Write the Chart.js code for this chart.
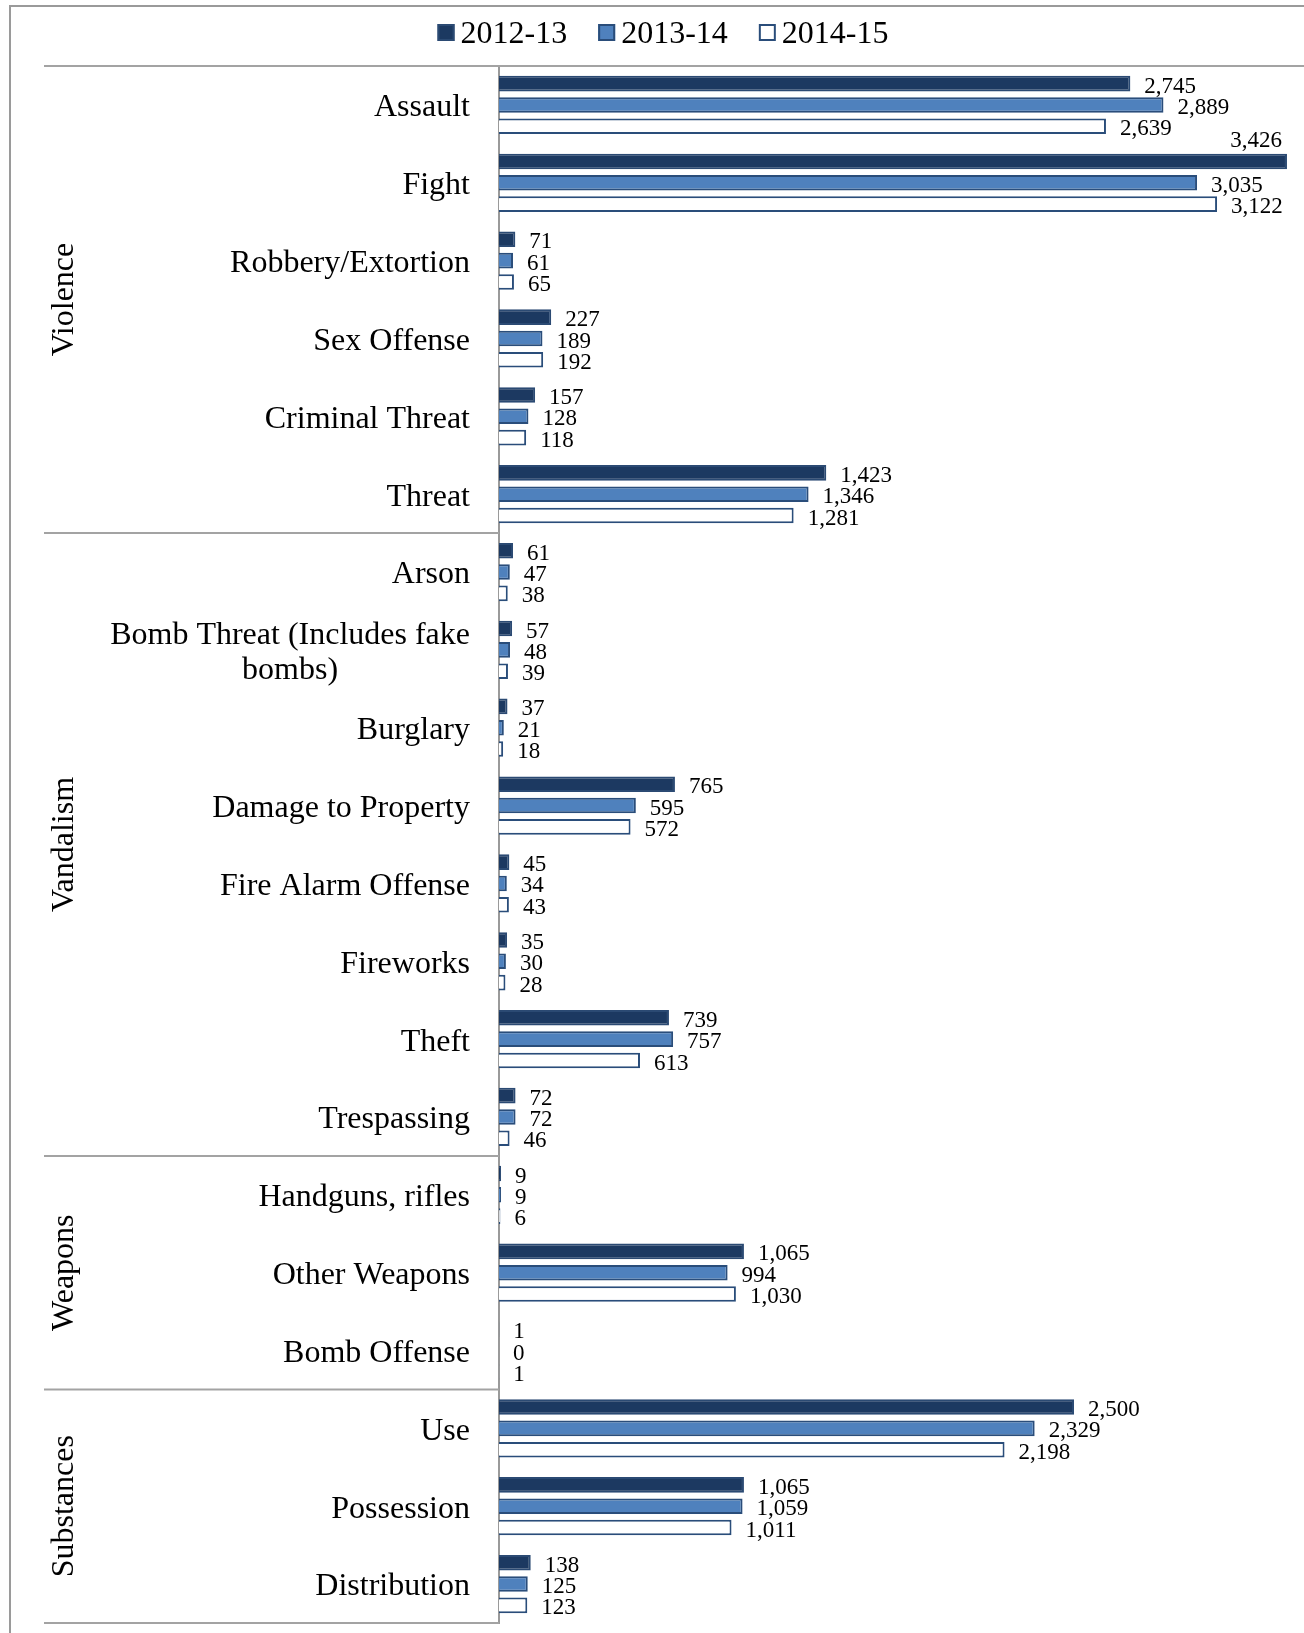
<!DOCTYPE html>
<html>
<head>
<meta charset="utf-8">
<script src="https://cdn.jsdelivr.net/npm/chart.js@4.4.1/dist/chart.umd.min.js"></script>
<style>
    html, body { margin: 0; padding: 0; background: #fff; }
    #wrap { width: 1304px; height: 1633px; position: relative; }
</style>
</head>
<body>
<div id="wrap"><canvas id="incidents"></canvas></div>
<script>
const categories = [
    'Assault', 'Fight', 'Robbery/Extortion', 'Sex Offense', 'Criminal Threat', 'Threat',
    'Arson', ['Bomb Threat (Includes fake', 'bombs)'], 'Burglary', 'Damage to Property',
    'Fire Alarm Offense', 'Fireworks', 'Theft', 'Trespassing',
    'Handguns, rifles', 'Other Weapons', 'Bomb Offense',
    'Use', 'Possession', 'Distribution'
];

const groups = [
    { name: 'Violence', from: 0, to: 5 },
    { name: 'Vandalism', from: 6, to: 13 },
    { name: 'Weapons', from: 14, to: 16 },
    { name: 'Substances', from: 17, to: 19 }
];

const years = ['2012-13', '2013-14', '2014-15'];

const values2012 = [2745, 3426, 71, 227, 157, 1423, 61, 57, 37, 765, 45, 35, 739, 72, 9, 1065, 1, 2500, 1065, 138];
const values2013 = [2889, 3035, 61, 189, 128, 1346, 47, 48, 21, 595, 34, 30, 757, 72, 9, 994, 0, 2329, 1059, 125];
const values2014 = [2639, 3122, 65, 192, 118, 1281, 38, 39, 18, 572, 43, 28, 613, 46, 6, 1030, 1, 2198, 1011, 123];

const SERIF = '"Liberation Serif", "Times New Roman", serif';
const LINE_GRAY = '#a3a3a3';
const LEFT_EDGE = 44;     // where the group separators start
const AXIS_X = 499;       // width given to the category axis

// frame, legend, category labels, group labels and separators
const decorations = {
    id: 'decorations',
    beforeDraw(chart) {
        const ctx = chart.ctx;
        ctx.save();
        ctx.strokeStyle = '#9a9a9a';
        ctx.lineWidth = 2;
        ctx.beginPath();
        ctx.moveTo(10, 1633);
        ctx.lineTo(10, 6);
        ctx.lineTo(1304, 6);
        ctx.stroke();
        ctx.restore();
    },
    afterDraw(chart) {
        const ctx = chart.ctx;
        const y = chart.scales.y;
        const area = chart.chartArea;
        const edge = (i) => y.getPixelForValue(i - 0.5);

        ctx.save();

        // separators between groups
        ctx.strokeStyle = LINE_GRAY;
        ctx.lineWidth = 2;
        ctx.beginPath();
        ctx.moveTo(LEFT_EDGE, area.top);
        ctx.lineTo(1304, area.top);
        groups.forEach(g => {
            const yb = edge(g.to + 1);
            ctx.moveTo(LEFT_EDGE, yb);
            ctx.lineTo(area.left, yb);
        });
        ctx.stroke();

        // category labels, multi-line ones centred on their widest line
        ctx.fillStyle = '#000';
        ctx.font = '32px ' + SERIF;
        ctx.textBaseline = 'middle';
        categories.forEach((label, i) => {
            const cy = y.getPixelForValue(i) + 3;
            if (Array.isArray(label)) {
                const w = Math.max(...label.map(l => ctx.measureText(l).width));
                const cx = area.left - 29 - w / 2;
                ctx.textAlign = 'center';
                label.forEach((line, k) => {
                    ctx.fillText(line, cx, cy + (k - (label.length - 1) / 2) * 35);
                });
            } else {
                ctx.textAlign = 'right';
                ctx.fillText(label, area.left - 29, cy);
            }
        });

        // group names, rotated
        ctx.textAlign = 'center';
        groups.forEach(g => {
            const cy = (edge(g.from) + edge(g.to + 1)) / 2;
            ctx.save();
            ctx.translate(64, cy);
            ctx.rotate(-Math.PI / 2);
            ctx.fillText(g.name, 0, 1);
            ctx.restore();
        });

        // value labels at the bar ends
        ctx.font = '23px ' + SERIF;
        chart.data.datasets.forEach((ds, di) => {
            const meta = chart.getDatasetMeta(di);
            meta.data.forEach((bar, i) => {
                const text = ds.data[i].toLocaleString('en-US');
                const w = ctx.measureText(text).width;
                if (bar.x + 14 + w > area.right) {
                    ctx.textAlign = 'right';
                    ctx.textBaseline = 'alphabetic';
                    ctx.fillText(text, bar.x - 5, bar.y - bar.height / 2 - 7);
                } else {
                    ctx.textAlign = 'left';
                    ctx.textBaseline = 'middle';
                    ctx.fillText(text, bar.x + 14, bar.y + 3);
                }
            });
        });

        // legend
        ctx.font = '32px ' + SERIF;
        ctx.textAlign = 'left';
        ctx.textBaseline = 'middle';
        const items = chart.data.datasets.map(ds => ({
            ds, w: 17 + 6 + ctx.measureText(ds.label).width
        }));
        const total = items.reduce((s, it) => s + it.w, 0) + 31 * (items.length - 1);
        let lx = 663 - total / 2;
        items.forEach(it => {
            ctx.fillStyle = it.ds.backgroundColor;
            ctx.fillRect(lx, 24, 17, 17);
            ctx.strokeStyle = it.ds.borderColor;
            ctx.lineWidth = 2;
            ctx.strokeRect(lx + 1, 25, 15, 15);
            ctx.fillStyle = '#000';
            ctx.fillText(it.ds.label, lx + 23, 35);
            lx += it.w + 31;
        });

        ctx.restore();
    }
};

const ctx = document.getElementById('incidents');

new Chart(ctx, {
    type: 'bar',
    data: {
        labels: categories,
        datasets: [{
            label: years[0],
            data: values2012,
            backgroundColor: '#1c3961',
            borderColor: '#2b4a73',
            borderWidth: 2
        }, {
            label: years[1],
            data: values2013,
            backgroundColor: '#4f81bd',
            borderColor: '#2a4d7a',
            borderWidth: 2
        }, {
            label: years[2],
            data: values2014,
            backgroundColor: '#ffffff',
            borderColor: '#2a4d7a',
            borderWidth: 2
        }]
    },
    options: {
        indexAxis: 'y',
        responsive: true,
        maintainAspectRatio: false,
        animation: false,
        categoryPercentage: 0.822,
        barPercentage: 0.73,
        layout: {
            padding: { top: 66, bottom: 10, left: 0, right: 0 }
        },
        plugins: {
            legend: { display: false },
            tooltip: { enabled: false }
        },
        scales: {
            x: {
                display: false,
                min: 0,
                max: 3500
            },
            y: {
                afterFit(scale) {
                    scale.width = AXIS_X;
                },
                grid: {
                    drawOnChartArea: false,
                    drawTicks: false
                },
                border: {
                    color: '#9a9a9a',
                    width: 2
                },
                ticks: { display: false }
            }
        }
    },
    plugins: [decorations]
});
</script>
</body>
</html>
